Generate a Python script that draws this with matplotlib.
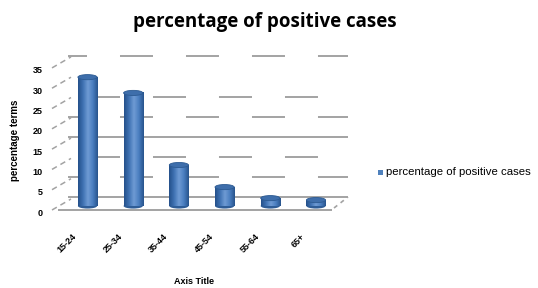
import matplotlib
matplotlib.use("Agg")
import matplotlib.pyplot as plt
import numpy as np
from matplotlib.patches import Ellipse, Rectangle
from matplotlib.lines import Line2D
from matplotlib.colors import LinearSegmentedColormap

categories = ["15-24", "25-34", "35-44", "45-54", "55-64", "65+"]
values = [32.7, 28.7, 10.4, 4.8, 2.0, 1.5]
yticks = [0, 5, 10, 15, 20, 25, 30, 35]
series_name = "percentage of positive cases"

plt.rcParams['font.family'] = ['Liberation Sans', 'DejaVu Sans']
plt.rcParams['lines.scale_dashes'] = False
W, H = 538, 288
fig = plt.figure(figsize=(W / 100, H / 100), dpi=100)


def fx(x):
    return x / W


def fy(y):
    return 1 - y / H


GRID = "#a3a3a3"


def wall_line(x0, y0, x1, y1, ls="-", lw=1.4):
    fig.add_artist(Line2D([fx(x0), fx(x1)], [fy(y0), fy(y1)], transform=fig.transFigure,
                          color=GRID, lw=lw, linestyle=ls, solid_capstyle="butt",
                          dash_capstyle="butt", zorder=0))


# back wall gridlines (3D look)
p = 33 / 1.389
phaseA = (14 / 1.389, (p, p))
phaseB = (47 / 1.389, (p, p))
for y in (56, 117, 177):
    wall_line(68, y, 348, y, ls=phaseA)
for y in (97, 157):
    wall_line(68, y, 348, y, ls=phaseB)
for y in (137, 197):
    wall_line(68, y, 348, y)
# floor
wall_line(58, 210, 332, 210)
wall_line(334, 208, 348, 197, ls=(0, (3, 3)), lw=1.2)
# side wall diagonals
for i in range(len(yticks)):
    yl = 212 - 20.3 * i
    wall_line(52, yl - 2, 71, yl - 13, ls=(0, (4, 3)), lw=1.1)

# axes in pixel layout
ax = fig.add_axes([fx(58), fy(214), fx(350) - fx(58), (214 - 54) / H])
ax.set_facecolor("none")
ax.set_xlim((58 - 87.5) / 45.7, (350 - 87.5) / 45.7)
ax.set_ylim(-(214 - 206) / 3.94, (206 - 54) / 3.94)

cmap = LinearSegmentedColormap.from_list(
    "cyl", ["#24508a", "#3f72b3", "#6f9bd4", "#4a7ec0", "#28548d"])
grad = np.linspace(0, 1, 64).reshape(1, -1)
w = 0.42
eh = 1.3
for i, v in enumerate(values):
    x0 = i - w / 2
    ax.imshow(grad, cmap=cmap, aspect="auto", extent=(x0, x0 + w, 0, v), zorder=3,
              interpolation="bilinear")
    ax.add_patch(Ellipse((i, 0), w, eh, facecolor="#2f5d97", edgecolor="none", zorder=2))
    ax.add_patch(Ellipse((i, v), w, eh, facecolor="#3e6eab", edgecolor="#2c5a92",
                         lw=0.6, zorder=4))

ax.set_xticks([])
ypos = [(4.06 * t - 6) / 3.94 for t in yticks]
ax.set_yticks(ypos)
ax.set_yticklabels([str(t) for t in yticks], fontsize=6.5, fontweight="bold")
ax.tick_params(axis="y", length=0, pad=11)
for s in ax.spines.values():
    s.set_visible(False)

# category labels
for i, c in enumerate(categories):
    ax.text(i - 0.2, (214 - 232) / 160, c, transform=ax.get_xaxis_transform(),
            rotation=45, ha="right", va="top", fontsize=6.5, fontweight="bold")

fig.text(fx(15), fy(140), "percentage terms", rotation=90, ha="center", va="center",
         fontsize=7, fontweight="bold")
fig.text(fx(194), fy(281), "Axis Title", ha="center", va="center",
         fontsize=6.5, fontweight="bold")
fig.text(fx(265), fy(22), "percentage of positive cases", ha="center", va="center",
         fontsize=13.5, fontweight="bold", family=["Open Sans", "DejaVu Sans"])

fig.patches.append(Rectangle((fx(378), fy(175)), fx(5), 5 / H, transform=fig.transFigure,
                             facecolor="#4f81bd", edgecolor="none"))
fig.text(fx(386), fy(172), series_name, fontsize=8.2, va="center")

fig.savefig("out.png", dpi=100)
